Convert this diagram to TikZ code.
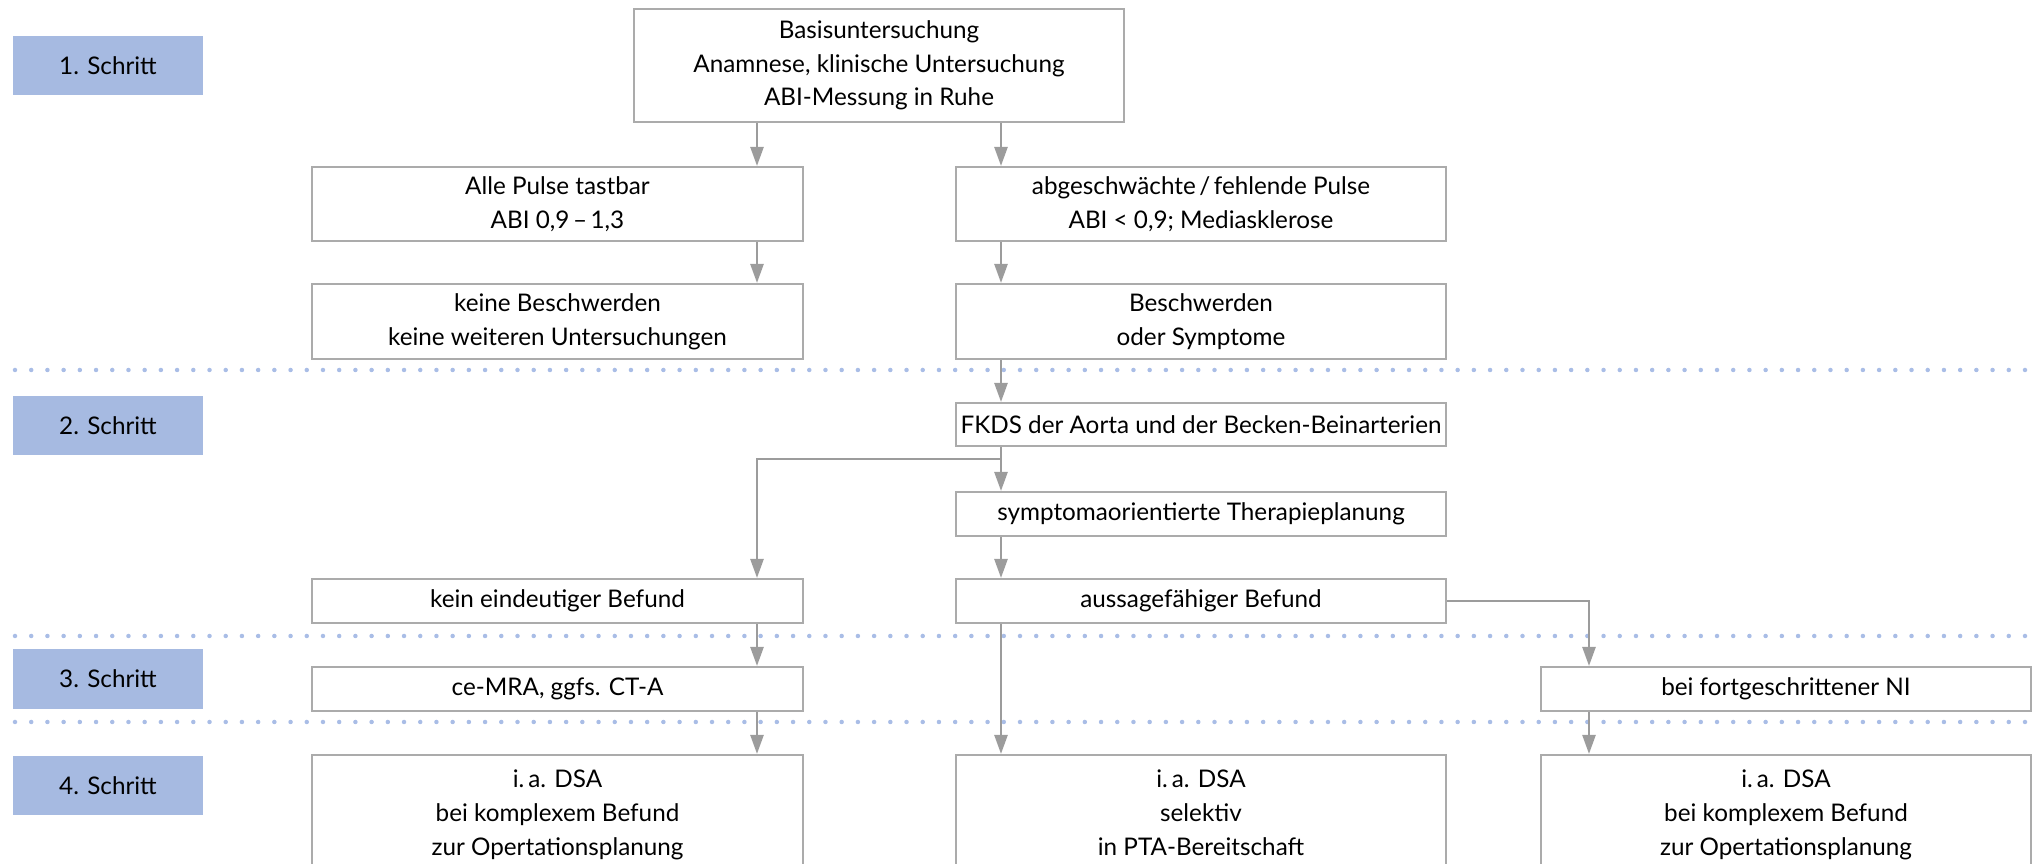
\documentclass[tikz,border=0pt]{standalone}
\usepackage{fontspec}
\setmainfont{Lato}
\usetikzlibrary{arrows.meta}

\definecolor{stepblue}{HTML}{A6BAE1}
\definecolor{dotblue}{HTML}{A9BDE6}
\definecolor{boxgray}{HTML}{ABABAB}
\definecolor{arrgray}{HTML}{9C9C9C}

\tikzset{
  flowbox/.style={draw=boxgray, line width=0.02cm, fill=white, minimum width=4.9cm,
    inner sep=0pt, align=center, font=\fontsize{6.9pt}{9.6pt}\selectfont},
  stepbox/.style={fill=stepblue, minimum width=1.9cm, minimum height=0.59cm,
    inner sep=0pt, font=\fontsize{6.9pt}{9.6pt}\selectfont},
  arr/.style={draw=arrgray, line width=0.025cm, -{Triangle[length=0.19cm,width=0.13cm]}},
  sepline/.style={draw=dotblue, line width=0.045cm, line cap=round, dash pattern=on 0pt off 0.162cm},
}

\begin{document}
\begin{tikzpicture}[x=0.01cm, y=-0.01cm]

  \useasboundingbox (0,0) rectangle (2038,864);

  \draw[sepline] (15,370) -- (2038,370);
  \draw[sepline] (15,636) -- (2038,636);
  \draw[sepline] (15,722) -- (2038,722);

  \node[stepbox] (s1) at (108,65.5) {1. Schritt};
  \node[stepbox] (s2) at (108,425.5) {2. Schritt};
  \node[stepbox] (s3) at (108,679) {3. Schritt};
  \node[stepbox] (s4) at (108,785.5) {4. Schritt};

  \coordinate (lc) at (757,0);
  \coordinate (mc) at (1001,0);
  \coordinate (rc) at (1589,0);

  \node[flowbox, minimum height=1.13cm] (basis) at (879,65.5)
    {Basisuntersuchung\\Anamnese, klinische Untersuchung\\ABI-Messung in Ruhe};
  \node[flowbox, minimum height=0.74cm] (tastbar) at (557.5,204)
    {Alle Pulse tastbar\\ABI 0,9\kern1pt–\kern1pt1,3};
  \node[flowbox, minimum height=0.74cm] (fehlend) at (1201,204)
    {abgeschwächte\kern1pt/\kern1pt fehlende Pulse\\ABI < 0,9; Mediasklerose};
  \node[flowbox, minimum height=0.75cm] (keine) at (557.5,321.5)
    {keine Beschwerden\\keine weiteren Untersuchungen};
  \node[flowbox, minimum height=0.75cm] (beschw) at (1201,321.5)
    {Beschwerden\\oder Symptome};
  \node[flowbox, minimum height=0.43cm] (fkds) at (1201,424.5)
    {FKDS der Aorta und der Becken-Beinarterien};
  \node[flowbox, minimum height=0.44cm] (therapie) at (1201,514)
    {symptomaorientierte Therapieplanung};
  \node[flowbox, minimum height=0.44cm] (unklar) at (557.5,601)
    {kein eindeutiger Befund};
  \node[flowbox, minimum height=0.44cm] (aussage) at (1201,601)
    {aussagefähiger Befund};
  \node[flowbox, minimum height=0.44cm] (mra) at (557.5,689)
    {ce-MRA, ggfs. CT-A};
  \node[flowbox, minimum height=0.44cm] (ni) at (1786,689)
    {bei fortgeschrittener NI};
  \node[flowbox, minimum height=1.2cm] (dsal) at (557.5,815)
    {i.\,a. DSA\\bei komplexem Befund\\zur Opertationsplanung};
  \node[flowbox, minimum height=1.2cm] (dsam) at (1201,815)
    {i.\,a. DSA\\selektiv\\in PTA-Bereitschaft\vphantom{g}};
  \node[flowbox, minimum height=1.2cm] (dsar) at (1786,815)
    {i.\,a. DSA\\bei komplexem Befund\\zur Opertationsplanung};

  \coordinate (split) at (1001,459);

  \draw[arr] (basis.south -| lc) -- (tastbar.north -| lc);
  \draw[arr] (basis.south -| mc) -- (fehlend.north -| mc);
  \draw[arr] (tastbar.south -| lc) -- (keine.north -| lc);
  \draw[arr] (fehlend.south -| mc) -- (beschw.north -| mc);
  \draw[arr] (beschw.south -| mc) -- (fkds.north -| mc);
  \draw[arr] (fkds.south -| mc) -- (therapie.north -| mc);
  \draw[arr] (split) -| (unklar.north -| lc);
  \draw[arr] (therapie.south -| mc) -- (aussage.north -| mc);
  \draw[arr] (aussage.east) -| (ni.north -| rc);
  \draw[arr] (unklar.south -| lc) -- (mra.north -| lc);
  \draw[arr] (mra.south -| lc) -- (dsal.north -| lc);
  \draw[arr] (aussage.south -| mc) -- (dsam.north -| mc);
  \draw[arr] (ni.south -| rc) -- (dsar.north -| rc);

\end{tikzpicture}
\end{document}
